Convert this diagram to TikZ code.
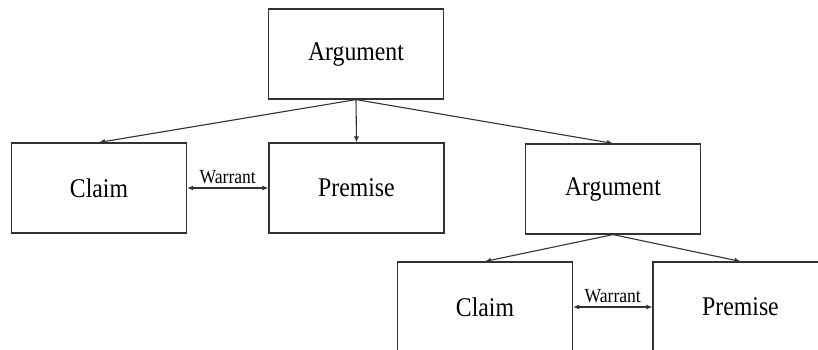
\documentclass[tikz,border=0pt]{standalone}
\usepackage{fontspec}
\setmainfont{Liberation Serif}
\usetikzlibrary{arrows.meta}

\newcommand{\narrowtext}[1]{\scalebox{0.88}[1]{#1}}

\tikzset{
  box/.style={draw=black!80, line width=1.2pt, minimum width=175pt, minimum height=90pt, inner sep=0pt, font=\fontsize{27}{30}\selectfont},
  link/.style={draw=black!80, line width=1.1pt, -{Latex[length=6pt,width=5pt]}},
  warrant/.style={draw=black!80, line width=1.1pt, {Latex[length=6pt,width=5pt]}-{Latex[length=6pt,width=5pt]}},
  wlabel/.style={font=\fontsize{20}{22}\selectfont, above, inner sep=4pt}
}

\begin{document}
\begin{tikzpicture}[x=1pt,y=-1pt]
\clip (0,0) rectangle (818,349);
\fill[white] (0,0) rectangle (818,349);
% top level
\node[box] (arg) at (356,54) {\narrowtext{Argument}};
\node[box] (claim) at (99,188) {\narrowtext{Claim}};
\node[box] (prem) at (356.5,188) {\narrowtext{Premise}};
\node[box] (subarg) at (613,189) {\narrowtext{Argument}};
% nested argument
\node[box] (subclaim) at (485,307) {\narrowtext{Claim}};
\node[box] (subprem) at (740.5,307) {\narrowtext{Premise}};
\draw[link] (arg.south) -- (claim.north);
\draw[link] (arg.south) -- (prem.north);
\draw[link] (arg.south) -- (subarg.north);
\draw[link] (subarg.south) -- (subclaim.north);
\draw[link] (subarg.south) -- (subprem.north);
\draw[warrant] (claim.east) -- node[wlabel] {\narrowtext{Warrant}} (prem.west);
\draw[warrant] (subclaim.east) -- node[wlabel] {\narrowtext{Warrant}} (subprem.west);
\end{tikzpicture}
\end{document}
